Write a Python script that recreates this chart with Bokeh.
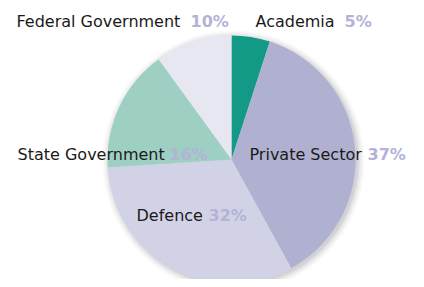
import math
from bokeh.plotting import figure
from bokeh.models import Range1d
from bokeh.core.properties import value
from bokeh.embed import file_html
from bokeh.resources import INLINE

# ---- data ----
categories = ["Academia", "Private Sector", "Defence", "State Government", "Federal Government"]
shares = [5, 37, 32, 16, 10]
colors = ["#129a87", "#b0b0d1", "#d2d2e6", "#9dd0c3", "#e7e7f1"]

# ---- layout (label anchors) ----
label_x = [255, 249, 136, 17, 16]
pct_x = [344, 367, 208, 169, 190]
label_y = [258, 125, 64, 125, 258]

W, H = 416, 279
cx, cy, R = 231, 120, 124

p = figure(width=W, height=H, output_backend="svg", toolbar_location=None,
           x_range=Range1d(0, W), y_range=Range1d(0, H), min_border=0)
p.axis.visible = False
p.grid.visible = False
p.outline_line_color = None
p.background_fill_color = "white"

# soft shadow
for i, a in enumerate([0.03, 0.04, 0.05, 0.07, 0.09]):
    p.circle(x=[cx + 2], y=[cy - 2], radius=R + 7 - 1.6 * i, fill_color="#505060",
             fill_alpha=a, line_color=None)

total = sum(shares)
cum = 0
starts, ends = [], []
for s in shares:
    starts.append(math.pi / 2 - 2 * math.pi * cum / total)
    cum += s
    ends.append(math.pi / 2 - 2 * math.pi * cum / total)

p.wedge(x=[cx] * len(shares), y=[cy] * len(shares), radius=R,
        start_angle=starts, end_angle=ends, direction="clock",
        fill_color=colors, line_color=None)

p.text(x=label_x, y=label_y, text=categories, text_font=value("DejaVu Sans"),
       text_font_size="16px", text_color="#1a1a1a", text_baseline="alphabetic",
       text_align="left")
p.text(x=pct_x, y=label_y, text=[f"{s}%" for s in shares], text_font=value("DejaVu Sans"),
       text_font_size="16px", text_font_style="bold", text_color="#b3b3d6",
       text_baseline="alphabetic", text_align="left")

open("out.html", "w").write(file_html(p, INLINE))
